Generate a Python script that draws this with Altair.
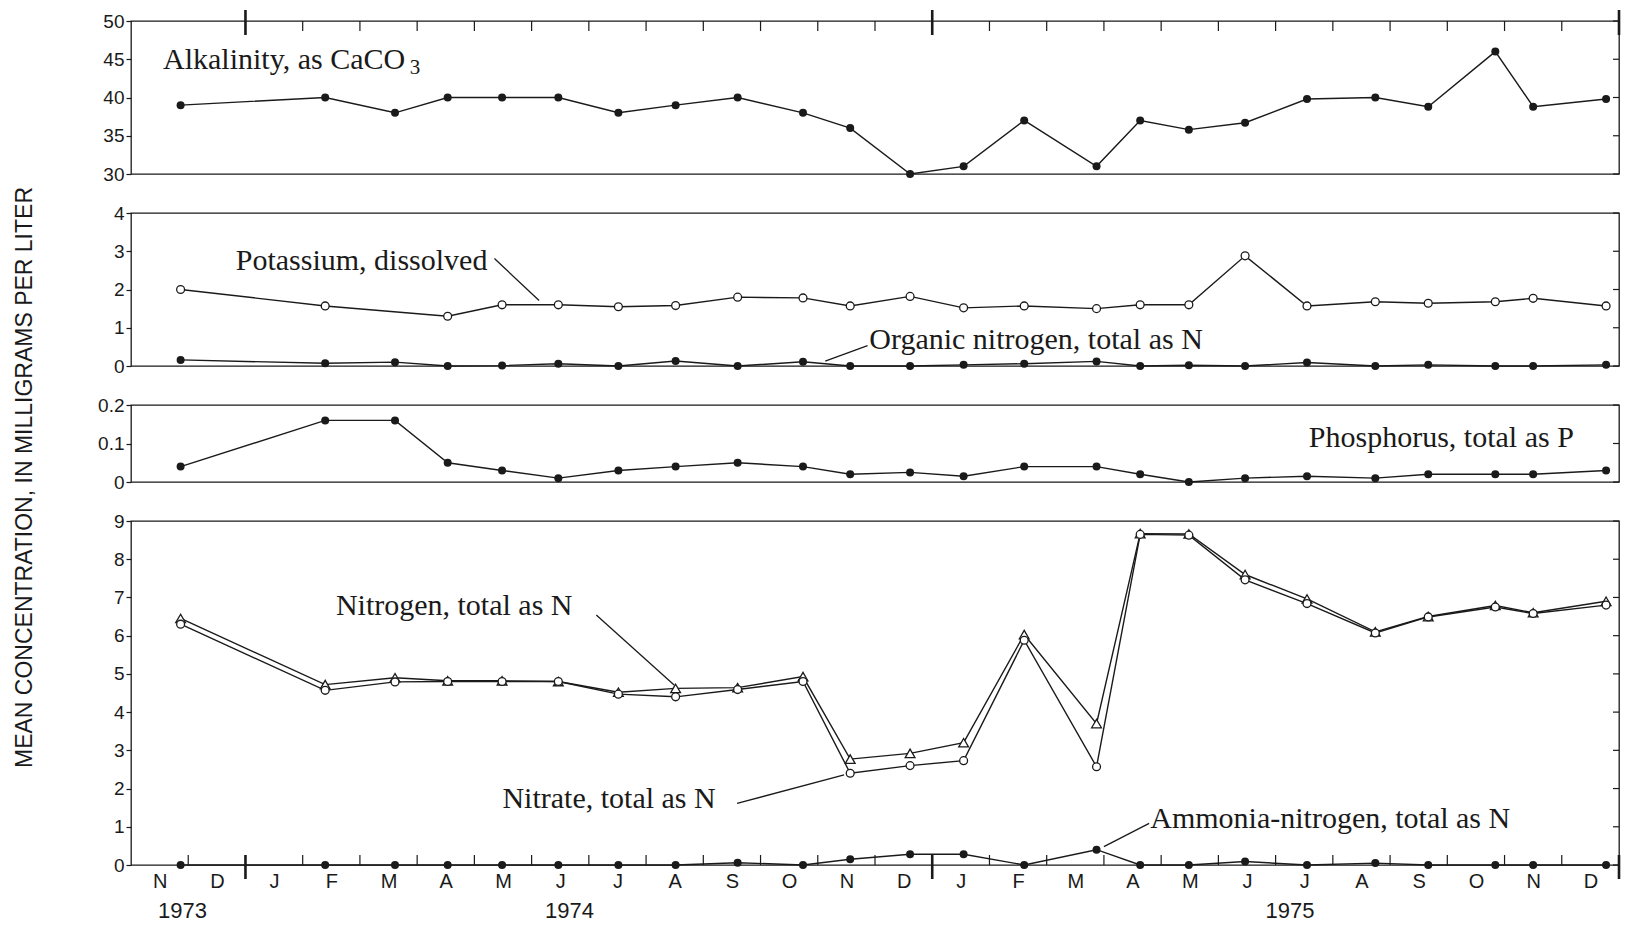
import json
import calendar
import altair as alt
import pandas as pd

# ---------------- data ----------------
SAMPLE_DATES = [
    "1973-11-27", "1974-02-12", "1974-03-20", "1974-04-17", "1974-05-16",
    "1974-06-15", "1974-07-17", "1974-08-17", "1974-09-19", "1974-10-24",
    "1974-11-18", "1974-12-20", "1975-01-18", "1975-02-18", "1975-03-28",
    "1975-04-20", "1975-05-16", "1975-06-15", "1975-07-18", "1975-08-24",
    "1975-09-21", "1975-10-27", "1975-11-16", "1975-12-25",
]
ALKALINITY = [39, 40, 38, 40, 40, 40, 38, 39, 40, 38, 36, 30, 31, 37, 31,
              37, 35.8, 36.7, 39.8, 40, 38.8, 46, 38.8, 39.8]
POTASSIUM = [2.0, 1.57, None, 1.3, 1.6, 1.6, 1.55, 1.58, 1.8, 1.78, 1.57,
             1.82, 1.52, 1.57, 1.5, 1.6, 1.6, 2.88, 1.57, 1.68, 1.64, 1.68,
             1.77, 1.57]
ORGANIC_N = [0.16, 0.07, 0.1, 0.0, 0.01, 0.06, 0.0, 0.13, 0.0, 0.11, 0.0,
             0.0, 0.03, 0.06, 0.12, 0.0, 0.02, 0.0, 0.09, 0.0, 0.03, 0.0,
             0.0, 0.03]
PHOSPHORUS = [0.04, 0.16, 0.16, 0.05, 0.03, 0.01, 0.03, 0.04, 0.05, 0.04,
              0.02, 0.025, 0.015, 0.04, 0.04, 0.02, 0.0, 0.01, 0.015, 0.01,
              0.02, 0.02, 0.02, 0.03]
NITROGEN_TOTAL = [6.45, 4.72, 4.9, 4.82, 4.82, 4.8, 4.52, 4.62, 4.64, 4.93,
                  2.77, 2.92, 3.2, 6.03, 3.7, 8.67, 8.66, 7.6, 6.96, 6.1,
                  6.5, 6.79, 6.6, 6.9]
NITRATE = [6.3, 4.57, 4.79, 4.8, 4.8, 4.8, 4.47, 4.4, 4.59, 4.8, 2.4, 2.6,
           2.73, 5.88, 2.57, 8.65, 8.63, 7.46, 6.84, 6.07, 6.49, 6.75, 6.58,
           6.8]
AMMONIA = [0.0, 0.0, 0.0, 0.0, 0.0, 0.0, 0.0, 0.0, 0.06, 0.0, 0.15, 0.28,
           0.28, 0.0, 0.4, 0.0, 0.0, 0.09, 0.0, 0.05, 0.0, 0.0, 0.0, 0.0]

MONTH_LABELS = ["N", "D", "J", "F", "M", "A", "M", "J", "J", "A", "S", "O",
                "N", "D", "J", "F", "M", "A", "M", "J", "J", "A", "S", "O",
                "N", "D"]
YEAR_LABELS = ["1973", "1974", "1975"]
YEAR_LABEL_MONTH = [0.9, 7.66, 20.25]

TICKS_ALK = [30, 35, 40, 45, 50]
TICKS_K = [0, 1, 2, 3, 4]
TICKS_P = [0, 0.1, 0.2]
TICKS_N = [0, 1, 2, 3, 4, 5, 6, 7, 8, 9]
TITLE_Y = "MEAN CONCENTRATION, IN MILLIGRAMS PER LITER"

# annotation labels: (month index, value at baseline, text)
LABELS_ALK = [(0.56, 43.76, "Alkalinity, as CaCO")]
SUB_ALK = [(4.87, 43.07, "3")]
LABELS_K = [(1.83, 2.50, "Potassium, dissolved"),
            (12.9, 0.44, "Organic  nitrogen, total as N")]
LEADERS_K = [(6.35, 2.81, 7.13, 1.71), (12.13, 0.13, 12.87, 0.53)]
LABELS_P = [(20.58, 0.091, "Phosphorus, total as P")]
LABELS_N = [(3.58, 6.54, "Nitrogen, total as N"),
            (6.49, 1.50, "Nitrate, total as N"),
            (17.81, 0.96, "Ammonia-nitrogen, total as N")]
LEADERS_N = [(8.13, 6.54, 9.49, 4.71), (10.59, 1.61, 12.46, 2.36),
             (17.79, 1.09, 17.0, 0.48)]


def month_index(s):
    y, mo, d = map(int, s.split("-"))
    days = calendar.monthrange(y, mo)[1]
    return (y - 1973) * 12 + (mo - 11) + (d - 1) / days


M = [month_index(s) for s in SAMPLE_DATES]

# ---------------- styling ----------------
INK = "#1a1a1a"
SANS = "Liberation Sans"
SERIF = "Liberation Serif"
W = 1488
X_SCALE = alt.Scale(domain=[0, 26], nice=False, zero=False)
MINOR_BOUNDS = [b for b in range(1, 26) if b not in (2, 14)]
YEAR_BOUNDS = [2, 14, 26]


def yaxis(ticks, fmt, **kw):
    opts = dict(values=ticks, format=fmt, domain=False, grid=False,
                tickSize=5, tickWidth=1.2, tickColor=INK, labelFont=SANS,
                labelFontSize=19, labelColor=INK, labelPadding=2)
    opts.update(kw)
    if "title" not in opts:
        opts["title"] = None
    return alt.Axis(**opts)


def panel(h, domain, ticks, fmt, series, labels, leaders=(), sub=(),
          axis_kw=None, top_ticks=False, bottom=False):
    ys = alt.Scale(domain=domain, nice=False, zero=False)
    ax = yaxis(ticks, fmt, **(axis_kw or {}))
    if bottom:
        expr = json.dumps(MONTH_LABELS) + "[floor(datum.value)]"
        xax = alt.Axis(values=[i + 0.5 for i in range(26)], labelExpr=expr,
                       ticks=False, domain=False, grid=False, labelFont=SANS,
                       labelFontSize=20, labelColor=INK, labelPadding=6,
                       labelFlush=False, labelOverlap=False, title=None)
    else:
        xax = None

    def X(f="m"):
        return alt.X(f"{f}:Q", scale=X_SCALE, axis=xax)

    def Y(f="v"):
        return alt.Y(f"{f}:Q", scale=ys, axis=ax)

    layers = []
    # inward ticks on the right border
    rt = pd.DataFrame({"t": ticks})
    layers.append(alt.Chart(rt).mark_rule(color=INK, strokeWidth=1.2).encode(
        x=alt.value(W - 6), x2=alt.value(W), y=Y("t")))

    lines, points = [], []
    for vals, kind in series:
        d = pd.DataFrame({"m": M, "v": vals}).dropna()
        base = alt.Chart(d).encode(x=X(), y=Y())
        lines.append(base.mark_line(color=INK, strokeWidth=1.4))
        if kind == "dot":
            points.append(base.mark_circle(color=INK, size=64, opacity=1))
        elif kind == "open":
            points.append(base.mark_point(shape="circle", filled=True,
                                          fill="white", stroke=INK,
                                          strokeWidth=1.3, size=62, opacity=1))
        else:
            points.append(base.mark_point(shape="triangle-up", filled=True,
                                          fill="white", stroke=INK,
                                          strokeWidth=1.3, size=95, opacity=1))
    layers += lines + points

    if leaders:
        ld = pd.DataFrame(leaders, columns=["m", "y1", "m2", "y2"])
        layers.append(alt.Chart(ld).mark_rule(color=INK, strokeWidth=1.3).encode(
            x=X(), x2="m2:Q", y=Y("y1"), y2="y2:Q"))
    td = pd.DataFrame(labels, columns=["m", "y", "text"])
    layers.append(alt.Chart(td).mark_text(
        align="left", baseline="alphabetic", font=SERIF, fontSize=30,
        color=INK).encode(x=X(), y=Y("y"), text="text:N"))
    if sub:
        sd = pd.DataFrame(sub, columns=["m", "y", "text"])
        layers.append(alt.Chart(sd).mark_text(
            align="left", baseline="alphabetic", font=SERIF, fontSize=21,
            color=INK).encode(x=X(), y=Y("y"), text="text:N"))

    bd_minor = pd.DataFrame({"m": MINOR_BOUNDS if bottom else MINOR_BOUNDS[1:]})
    bd_year = pd.DataFrame({"m": YEAR_BOUNDS})
    if top_ticks:
        layers.append(alt.Chart(bd_minor).mark_rule(color=INK, strokeWidth=1.2).encode(
            x=X(), y=alt.value(0), y2=alt.value(10)))
        layers.append(alt.Chart(bd_year).mark_rule(color=INK, strokeWidth=2.6).encode(
            x=X(), y=alt.value(-11), y2=alt.value(14)))
    if bottom:
        layers.append(alt.Chart(bd_minor).mark_rule(color=INK, strokeWidth=1.2).encode(
            x=X(), y=alt.value(h), y2=alt.value(h - 10)))
        layers.append(alt.Chart(bd_year).mark_rule(color=INK, strokeWidth=2.6).encode(
            x=X(), y=alt.value(h - 10), y2=alt.value(h + 14)))
        yd = pd.DataFrame({"m": YEAR_LABEL_MONTH, "text": YEAR_LABELS})
        layers.append(alt.Chart(yd).mark_text(
            align="center", baseline="middle", font=SANS, fontSize=22,
            color=INK).encode(x=X(), y=alt.value(h + 46), text="text:N"))

    return alt.layer(*layers).properties(width=W, height=h)


p1 = panel(153, [30, 50], TICKS_ALK, "d", [(ALKALINITY, "dot")],
           LABELS_ALK, sub=SUB_ALK, top_ticks=True)
p2 = panel(153, [0, 4], TICKS_K, "d",
           [(POTASSIUM, "open"), (ORGANIC_N, "dot")], LABELS_K, LEADERS_K)
p3 = panel(77, [0, 0.2], TICKS_P, "~g", [(PHOSPHORUS, "dot")], LABELS_P,
           axis_kw=dict(title=TITLE_Y, titleX=-107, titleY=72, titleAngle=270,
                        titleAlign="center", titleBaseline="middle",
                        titleFont=SANS, titleFontSize=23,
                        titleFontWeight="normal", titleColor=INK))
p4 = panel(344, [0, 9], TICKS_N, "d",
           [(NITROGEN_TOTAL, "tri"), (NITRATE, "open"), (AMMONIA, "dot")],
           LABELS_N, LEADERS_N, bottom=True)

chart = (
    alt.vconcat(p1, p2, p3, p4, spacing=39)
    .properties(bounds="flush", background="white",
                padding={"left": 4, "top": 0, "right": 0, "bottom": 0})
    .configure_view(stroke=INK, strokeWidth=1.3)
)

chart.save("out.html", embed_options={"renderer": "svg", "actions": False})
